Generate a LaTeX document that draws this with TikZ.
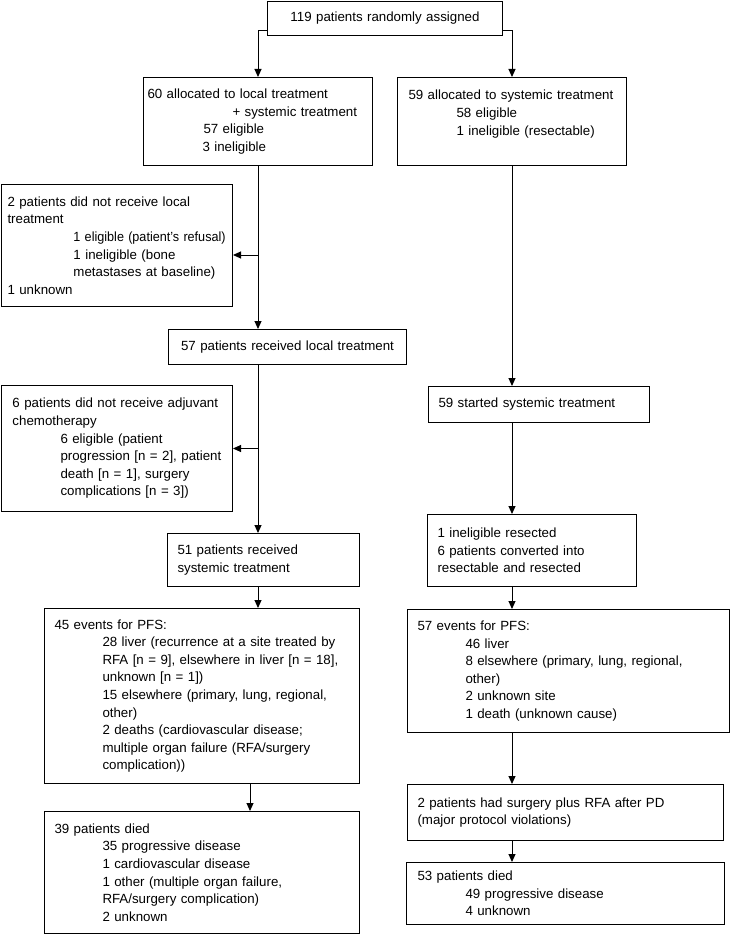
\documentclass[tikz,border=0pt]{standalone}
\usepackage{fontspec}
\setmainfont{Liberation Sans}
\usetikzlibrary{arrows.meta}
\newcommand{\subind}{\hspace*{48pt}}
\hyphenpenalty=10000
\exhyphenpenalty=10000

\begin{document}
\begin{tikzpicture}[x=1pt,y=-1pt,
  font=\fontsize{13.3pt}{17.6pt}\selectfont,
  box/.style={draw=black, line width=1pt, anchor=north west, inner ysep=0pt, inner xsep=10pt, align=left},
  arr/.style={draw=black, line width=1pt, -{Triangle[length=8pt,width=7pt]}}]
\useasboundingbox (0,0) rectangle (730,934);
\node[box, align=center, text width=215pt, minimum height=34pt] (assigned) at (267,1) {119 patients randomly assigned};
\node[box, inner xsep=4pt, text width=221pt, minimum height=88pt] (alloclocal) at (143,77) {60 allocated to local treatment\\ \hspace*{85pt}+ systemic treatment\\ \hspace*{56pt}57 eligible\\ \hspace*{55pt}3 ineligible};
\node[box, inner xsep=11pt, text width=207pt, minimum height=88pt] (allocsys) at (397,77) {59 allocated to systemic treatment\\ \subind 58 eligible\\ \subind 1 ineligible (resectable)\\ \mbox{}};
\node[box, inner xsep=6pt, text width=219pt, minimum height=122pt] (nolocal) at (1,184) {2 patients did not receive local\\ treatment\\ \hspace*{66pt}\scalebox{0.95}[1]{1 eligible (patient's refusal)}\\ \hspace*{66pt}1 ineligible (bone\\ \hspace*{66pt}metastases at baseline)\\ 1 unknown};
\node[box, align=center, inner xsep=11pt, text width=216pt, minimum height=35pt] (gotlocal) at (168,329) {57 patients received local treatment};
\node[box, inner xsep=11pt, text width=209pt, minimum height=126pt] (nochemo) at (1,385) {6 patients did not receive adjuvant\\ chemotherapy\\ \subind 6 eligible (patient\\ \subind progression [n = 2], patient\\ \subind death [n = 1], surgery\\ \subind complications [n = 3])};
\node[box, text width=201pt, minimum height=36pt] (startsys) at (428,386) {59 started systemic treatment};
\node[box, text width=172pt, minimum height=53pt] (gotsys) at (167,533) {51 patients received\\ systemic treatment};
\node[box, text width=295pt, minimum height=175pt] (pfslocal) at (44,608) {45 events for PFS:\\ \subind 28 liver (recurrence at a site treated by\\ \subind RFA [n = 9], elsewhere in liver [n = 18],\\ \subind unknown [n = 1])\\ \subind 15 elsewhere (primary, lung, regional,\\ \subind other)\\ \subind 2 deaths (cardiovascular disease;\\ \subind multiple organ failure (RFA/surgery\\ \subind complication))};
\node[box, text width=295pt, minimum height=122pt] (diedlocal) at (44,811) {39 patients died\\ \subind 35 progressive disease\\ \subind 1 cardiovascular disease\\ \subind 1 other (multiple organ failure,\\ \subind RFA/surgery complication)\\ \subind 2 unknown};
\node[box, text width=189pt, minimum height=72pt] (resected) at (427,514) {1 ineligible resected\\ 6 patients converted into\\ resectable and resected};
\node[box, text width=302pt, minimum height=123pt] (pfssys) at (407,609) {57 events for PFS:\\ \subind 46 liver\\ \subind 8 elsewhere (primary, lung, regional,\\ \subind other)\\ \subind 2 unknown site\\ \subind 1 death (unknown cause)};
\node[box, text width=296pt, minimum height=56pt] (violation) at (407,784) {2 patients had surgery plus RFA after PD\\ (major protocol violations)};
\node[box, inner xsep=11pt, text width=296pt, minimum height=62pt] (diedsys) at (406,862) {53 patients died\\ \subind 49 progressive disease\\ \subind 4 unknown};
\coordinate (brlocal) at (0,255);
\coordinate (lastx) at (250,0);
\draw[arr] ([yshift=5pt]assigned.south west) -| (alloclocal.north);
\draw[arr] ([yshift=5pt]assigned.south east) -| (allocsys.north);
\draw[arr] (alloclocal.south) -- (alloclocal.south |- gotlocal.north);
\draw[arr] (alloclocal.south |- brlocal) -- (nolocal.east |- brlocal);
\draw[arr] (alloclocal.south |- gotlocal.south) -- (alloclocal.south |- gotsys.north);
\draw[arr] (alloclocal.south |- nochemo.east) -- (nochemo.east);
\draw[arr] (alloclocal.south |- gotsys.south) -- (alloclocal.south |- pfslocal.north);
\draw[arr] (lastx |- pfslocal.south) -- (lastx |- diedlocal.north);
\draw[arr] (allocsys.south) -- (allocsys.south |- startsys.north);
\draw[arr] (allocsys.south |- startsys.south) -- (allocsys.south |- resected.north);
\draw[arr] (allocsys.south |- resected.south) -- (allocsys.south |- pfssys.north);
\draw[arr] (allocsys.south |- pfssys.south) -- (allocsys.south |- violation.north);
\draw[arr] (allocsys.south |- violation.south) -- (allocsys.south |- diedsys.north);
\end{tikzpicture}
\end{document}
